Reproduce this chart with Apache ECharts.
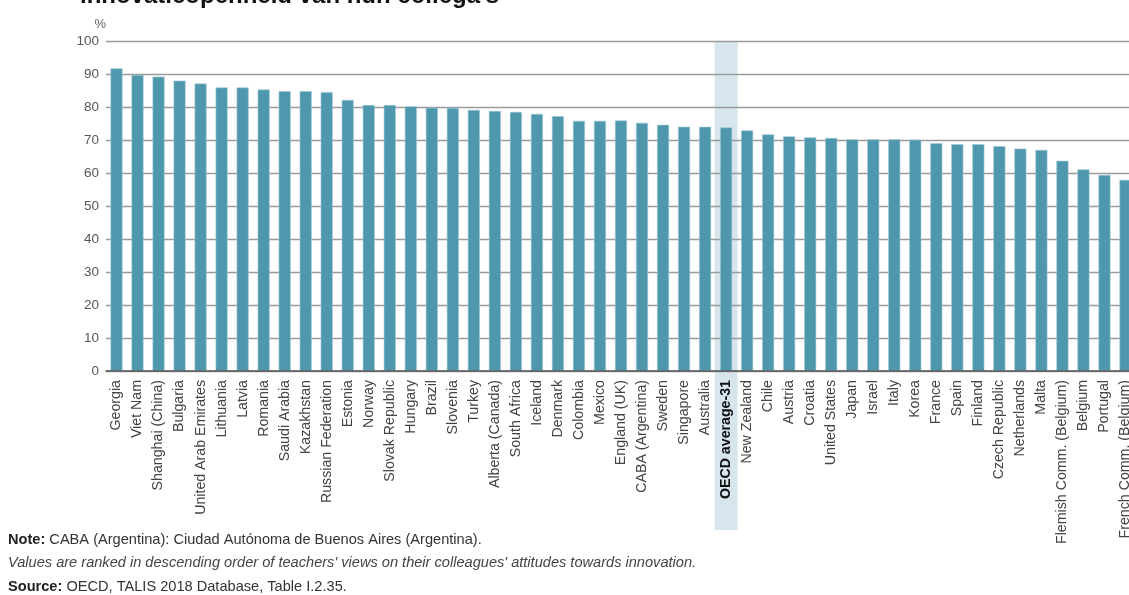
<!DOCTYPE html>
<html>
<head>
<meta charset="utf-8">
<script src="https://cdn.jsdelivr.net/npm/echarts@6/dist/echarts.min.js"></script>
<style>
html,body{margin:0;padding:0;background:#fff;overflow:hidden;width:1129px;height:595px;}
#c{width:1136px;height:595px;}
</style>
</head>
<body>
<div id="c"></div>
<script>
const categories = ["Georgia","Viet Nam","Shanghai (China)","Bulgaria","United Arab Emirates","Lithuania","Latvia","Romania","Saudi Arabia","Kazakhstan","Russian Federation","Estonia","Norway","Slovak Republic","Hungary","Brazil","Slovenia","Turkey","Alberta (Canada)","South Africa","Iceland","Denmark","Colombia","Mexico","England (UK)","CABA (Argentina)","Sweden","Singapore","Australia","OECD average-31","New Zealand","Chile","Austria","Croatia","United States","Japan","Israel","Italy","Korea","France","Spain","Finland","Czech Republic","Netherlands","Malta","Flemish Comm. (Belgium)","Belgium","Portugal","French Comm. (Belgium)"];
const values = [91.7,89.7,89.2,88.0,87.1,85.9,85.9,85.3,84.8,84.8,84.5,82.1,80.6,80.6,80.2,79.8,79.7,79.1,78.8,78.5,77.9,77.2,75.8,75.8,75.9,75.2,74.6,74.0,74.0,73.8,72.9,71.7,71.1,70.8,70.6,70.2,70.2,70.2,70.1,69.0,68.7,68.7,68.1,67.4,67.0,63.7,61.1,59.4,57.9];
const yTicks = [0,10,20,30,40,50,60,70,80,90,100];
const highlight = "OECD average-31";
const titleText = "innovatieopenheid van hun collega's";
const noteLines = ["Note: CABA (Argentina): Ciudad Autónoma de Buenos Aires (Argentina).","Values are ranked in descending order of teachers' views on their colleagues' attitudes towards innovation.","Source: OECD, TALIS 2018 Database, Table I.2.35."];

const chart = echarts.init(document.getElementById('c'), null, {renderer:'canvas'});
const FONT = '"Liberation Sans", Arial, sans-serif';
const NF = 14.6;
const option = {
  animation:false,
  textStyle:{fontFamily:FONT},
  grid:{left:106, right:0, top:41, bottom:224, containLabel:false},
  xAxis:{
    type:'category', data:categories, z:5,
    axisLine:{show:true, lineStyle:{color:'#555', width:1.5}},
    axisTick:{show:false},
    axisLabel:{
      interval:0, rotate:90, margin:9, color:'#444', fontSize:14.2, fontFamily:FONT,
      formatter:function(v){ return v===highlight ? '{b|'+v+'}' : v; },
      rich:{b:{fontWeight:'bold', color:'#111', fontSize:14.2, fontFamily:FONT}}
    }
  },
  yAxis:{
    type:'value', min:yTicks[0], max:yTicks[yTicks.length-1], interval:10,
    name:'%', nameLocation:'end', nameGap:10, nameTextStyle:{color:'#666', fontSize:13, align:'right', padding:[0,0,0,0]},
    axisLine:{show:false}, axisTick:{show:false},
    axisLabel:{color:'#555', fontSize:13.5, margin:7},
    splitLine:{show:true, lineStyle:{color:'#9a9a9a', width:1.3}}
  },
  series:[{
    type:'bar', data:values, barWidth:12, z:3,
    itemStyle:{color:'#4e97ad', borderColor:'#9cc8d6', borderWidth:0.6}
  }],
  graphic:[
    {type:'text', left:80, top:-16, z:10, style:{text:titleText, font:'bold 24px '+FONT, fill:'#111'}},
    {type:'text', left:8, top:532, style:{rich:{b:{fontWeight:'bold', fontSize:NF, fill:'#222', fontFamily:FONT}, n:{fontSize:NF, fill:'#333', fontFamily:FONT}}, text:'{b|Note:}{n|'+noteLines[0].slice(5)+'}'}},
    {type:'text', left:8, top:555, style:{text:noteLines[1], font:'italic '+NF+'px '+FONT, fill:'#444'}},
    {type:'text', left:8, top:579, style:{rich:{b:{fontWeight:'bold', fontSize:NF, fill:'#222', fontFamily:FONT}, n:{fontSize:NF, fill:'#333', fontFamily:FONT}}, text:'{b|Source:}{n|'+noteLines[2].slice(7)+'}'}}
  ]
};
chart.setOption(option);
// highlight band placed via the library's own scales
const cx = chart.convertToPixel({xAxisIndex:0}, highlight);
const step = chart.convertToPixel({xAxisIndex:0}, categories[1]) - chart.convertToPixel({xAxisIndex:0}, categories[0]);
const yTop = chart.convertToPixel({yAxisIndex:0}, yTicks[yTicks.length-1]);
const bw = step + 2;
chart.setOption({graphic:[{id:'band', type:'rect', z:-1, zlevel:0, silent:true, shape:{x:cx-bw/2, y:yTop, width:bw, height:530-yTop}, style:{fill:'#d6e6ec'}}]});
</script>
</body>
</html>
